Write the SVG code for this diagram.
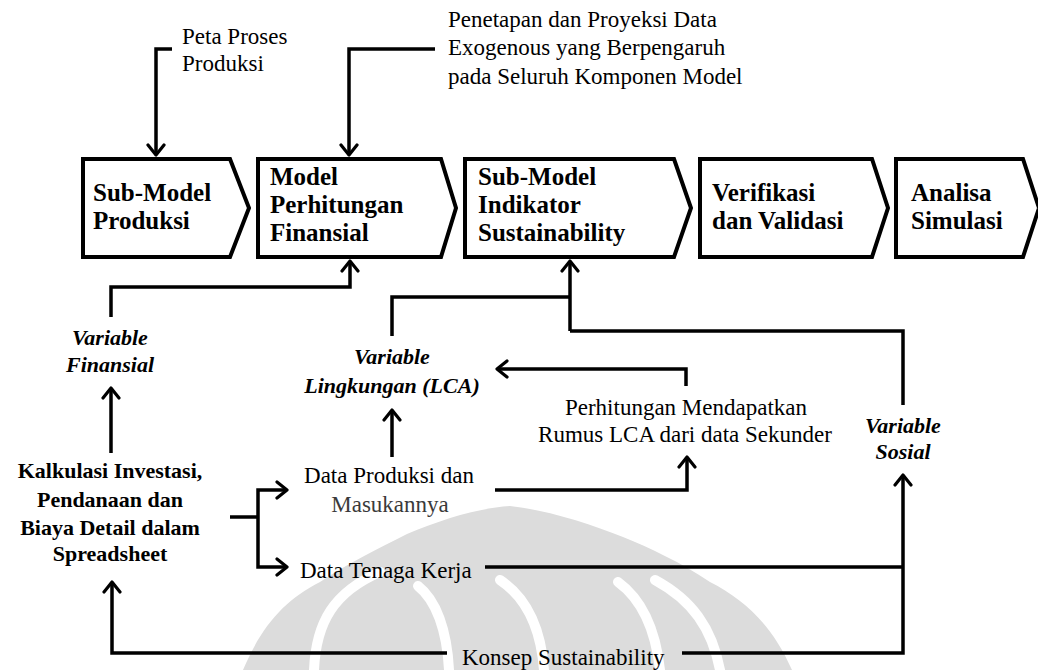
<svg xmlns="http://www.w3.org/2000/svg" width="1038" height="670" viewBox="0 0 1038 670">
  <style>
    .t { font-family: "Liberation Serif", "Times New Roman", serif; font-size: 23px; fill: #000; }
    .b { font-family: "Liberation Serif", "Times New Roman", serif; font-size: 22px; font-weight: bold; fill: #000; }
    .bi { font-family: "Liberation Serif", "Times New Roman", serif; font-size: 22px; font-weight: bold; font-style: italic; fill: #000; }
    .ct { font-family: "Liberation Serif", "Times New Roman", serif; font-size: 25px; font-weight: bold; fill: #000; }
    .chev { fill: #fff; stroke: #000; stroke-width: 4; stroke-linejoin: miter; }
    .ln { fill: none; stroke: #000; stroke-width: 3.5; stroke-linejoin: miter; }
    .arr { fill: none; stroke: #000; stroke-width: 3.5; stroke-linejoin: miter; marker-end: url(#ah); }
    .wm { fill: #dcdcdc; }
    .wmgap { fill: none; stroke: #fff; stroke-width: 10; stroke-linecap: round; }
  </style>
  <defs>
    <marker id="ah" viewBox="-13 -10 16 20" refX="0" refY="0" markerWidth="16" markerHeight="20" orient="auto" markerUnits="userSpaceOnUse">
      <path d="M-10,-8 L0,0 L-10,8" fill="none" stroke="#000" stroke-width="3.2" stroke-linejoin="round" stroke-linecap="round"/>
    </marker>
  </defs>

  <rect width="1038" height="670" fill="#fff"/>

  <!-- faint emblem in the background -->
  <g id="emblem">
    <path class="wm" d="M243,670 C262,625 285,600 320,582 C350,562 380,548 407,534 C440,520 478,508 510,506 C548,510 590,524 623,537 C650,548 680,562 710,582 C745,600 772,625 792,670 Z"/>
    <path class="wmgap" d="M314,670 C316,622 334,592 380,572"/>
    <path class="wmgap" d="M449,670 C447,630 436,600 418,586"/>
    <path class="wmgap" d="M544,670 C541,630 527,598 500,580"/>
    <path class="wmgap" d="M660,670 C655,625 640,598 618,582"/>
    <path class="wmgap" d="M720,670 C712,628 692,600 655,580"/>
  </g>

  <!-- process chevrons -->
  <g id="sub-model-produksi">
    <polygon class="chev" points="83,159 230,159 249,208 230,257 83,257"/>
    <text class="ct" x="93" y="201">Sub-Model</text>
    <text class="ct" x="93" y="229">Produksi</text>
  </g>
  <g id="model-perhitungan-finansial">
    <polygon class="chev" points="258,159 441,159 456,208 441,257 258,257"/>
    <text class="ct" x="270" y="185">Model</text>
    <text class="ct" x="270" y="213">Perhitungan</text>
    <text class="ct" x="270" y="241">Finansial</text>
  </g>
  <g id="sub-model-indikator">
    <polygon class="chev" points="465,159 674,159 691,208 674,257 465,257"/>
    <text class="ct" x="478" y="185">Sub-Model</text>
    <text class="ct" x="478" y="213">Indikator</text>
    <text class="ct" x="478" y="241">Sustainability</text>
  </g>
  <g id="verifikasi-validasi">
    <polygon class="chev" points="700,159 872,159 888,208 872,257 700,257"/>
    <text class="ct" x="712" y="201">Verifikasi</text>
    <text class="ct" x="712" y="229">dan Validasi</text>
  </g>
  <g id="analisa-simulasi">
    <polygon class="chev" points="896,159 1023,159 1039,208 1023,257 896,257"/>
    <text class="ct" x="911" y="201">Analisa</text>
    <text class="ct" x="911" y="229">Simulasi</text>
  </g>

  <!-- inputs and variables -->
  <g id="peta-proses">
    <text class="t" x="182" y="44">Peta Proses</text>
    <text class="t" x="182" y="71">Produksi</text>
  </g>
  <g id="data-exogenous">
    <text class="t" x="448" y="27">Penetapan dan Proyeksi Data</text>
    <text class="t" x="448" y="55">Exogenous yang Berpengaruh</text>
    <text class="t" x="448" y="84">pada Seluruh Komponen Model</text>
  </g>
  <g id="variable-finansial">
    <text class="bi" x="110" y="345" text-anchor="middle">Variable</text>
    <text class="bi" x="110" y="372" text-anchor="middle">Finansial</text>
  </g>
  <g id="variable-lingkungan">
    <text class="bi" x="392" y="364" text-anchor="middle">Variable</text>
    <text class="bi" x="392" y="393" text-anchor="middle">Lingkungan (LCA)</text>
  </g>
  <g id="perhitungan-lca">
    <text class="t" x="686" y="415" text-anchor="middle">Perhitungan Mendapatkan</text>
    <text class="t" x="685" y="442" text-anchor="middle">Rumus LCA dari data Sekunder</text>
  </g>
  <g id="variable-sosial">
    <text class="bi" x="903" y="433" text-anchor="middle">Variable</text>
    <text class="bi" x="903" y="459" text-anchor="middle">Sosial</text>
  </g>
  <g id="kalkulasi-investasi">
    <text class="b" x="110" y="478" text-anchor="middle">Kalkulasi Investasi,</text>
    <text class="b" x="110" y="507" text-anchor="middle">Pendanaan dan</text>
    <text class="b" x="110" y="535" text-anchor="middle">Biaya Detail dalam</text>
    <text class="b" x="110" y="561" text-anchor="middle">Spreadsheet</text>
  </g>
  <g id="data-produksi">
    <text class="t" x="389" y="483" text-anchor="middle">Data Produksi dan</text>
    <text class="t" x="390" y="512" text-anchor="middle" style="fill:#3a3a3a">Masukannya</text>
  </g>
  <g id="data-tenaga-kerja">
    <text class="t" x="300" y="578">Data Tenaga Kerja</text>
  </g>
  <g id="konsep-sustainability">
    <text class="t" x="462" y="665">Konsep Sustainability</text>
  </g>

  <!-- connectors -->
  <g id="connectors">
    <path class="arr" d="M172,49 H156 V155"/>
    <path class="arr" d="M435,49 H349 V155"/>
    <path class="arr" d="M111,317 V287 H350 V261"/>
    <path class="arr" d="M111,453 V388"/>
    <path class="ln" d="M392,336 V297 H570"/>
    <path class="ln" d="M903,405 V331 H570"/>
    <path class="arr" d="M570,331 V261"/>
    <path class="arr" d="M392,457 V410"/>
    <path class="arr" d="M686,386 V369 H497"/>
    <path class="arr" d="M495,490 H687 V457"/>
    <path class="ln" d="M230,517 H258"/>
    <path class="arr" d="M258,517 V490 H287"/>
    <path class="arr" d="M258,517 V567 H287"/>
    <path class="ln" d="M485,567 H903"/>
    <path class="arr" d="M682,653 H903 V475"/>
    <path class="arr" d="M447,653 H112 V582"/>
  </g>
</svg>
